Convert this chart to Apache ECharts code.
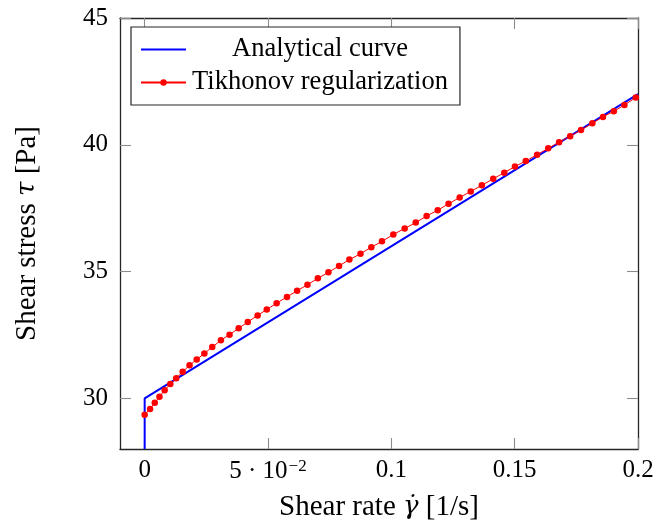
<!DOCTYPE html>
<html>
<head>
<meta charset="utf-8">
<script src="https://cdn.jsdelivr.net/npm/echarts@6/dist/echarts.min.js"></script>
<style>
  html, body { margin: 0; padding: 0; background: #fff; }
  #chart { width: 659px; height: 527px; }
</style>
</head>
<body>
<div id="chart"></div>
<script>
// ---- data ----
const analyticalX = [0, 0, 0.2];
const analyticalY = [28, 30, 42];

const tikhonovX = [0.0000, 0.0022, 0.0041, 0.0060, 0.0081, 0.0104, 0.0128, 0.0154, 0.0182, 0.0211,
  0.0242, 0.0274, 0.0309, 0.0344, 0.0381, 0.0418, 0.0458, 0.0495, 0.0535, 0.0577,
  0.0618, 0.0660, 0.0702, 0.0745, 0.0788, 0.0830, 0.0875, 0.0919, 0.0962, 0.1008,
  0.1054, 0.1099, 0.1143, 0.1188, 0.1232, 0.1277, 0.1322, 0.1367, 0.1413, 0.1458,
  0.1501, 0.1545, 0.1591, 0.1636, 0.1680, 0.1725, 0.1769, 0.1815, 0.1858, 0.1902,
  0.1945, 0.1991];
const tikhonovY = [29.35, 29.58, 29.82, 30.06, 30.32, 30.56, 30.79, 31.05, 31.30, 31.53,
  31.77, 32.02, 32.29, 32.51, 32.76, 33.01, 33.27, 33.50, 33.75, 34.00,
  34.24, 34.48, 34.73, 34.97, 35.22, 35.47, 35.70, 35.96, 36.19, 36.46,
  36.70, 36.93, 37.19, 37.42, 37.67, 37.92, 38.16, 38.40, 38.66, 38.90,
  39.14, 39.36, 39.61, 39.86, 40.10, 40.34, 40.58, 40.85, 41.10, 41.32,
  41.57, 41.86];

const xTicks = [0, 0.05, 0.1, 0.15, 0.2];
const xTickLabels = ['0', '5·10^−2', '0.1', '0.15', '0.2'];
const yTicks = [30, 35, 40, 45];
const yTickLabels = ['30', '35', '40', '45'];

const seriesNames = ['Analytical curve', 'Tikhonov regularization'];
const xName = 'Shear rate';
const yName = 'Shear stress';

// ---- chart ----
const serif = '"Liberation Serif", "DejaVu Serif", serif';
const FS = 25;      // tick labels
const LFS = 26.5;   // legend
const NFS = 29;     // axis names
const zip = (xs, ys) => xs.map((x, i) => [x, ys[i]]);

function xLabelFmt(v) {
  const i = xTicks.findIndex(t => Math.abs(t - v) < 1e-9);
  if (i < 0) return '';
  const s = xTickLabels[i];
  if (s.indexOf('^') >= 0) {
    const [base, exp] = s.split('^');
    const [m, b] = base.split('·');
    return '{n|' + m + ' · ' + b + '}{sup|' + exp + '}';
  }
  return '{n|' + s + '}';
}
function yLabelFmt(v) {
  const i = yTicks.findIndex(t => Math.abs(t - v) < 1e-9);
  return i < 0 ? '' : yTickLabels[i];
}

const frame = { show: true, onZero: false, lineStyle: { color: '#262626', width: 1.3 } };
const tickStyle = { color: '#8c8c8c', width: 1.1 };
const nameRich = {
  n: { fontFamily: serif, fontSize: NFS, color: '#000' },
  i: { fontFamily: '"DejaVu Serif", serif', fontSize: NFS - 3, color: '#000', fontStyle: 'italic' }
};

const chart = echarts.init(document.getElementById('chart'), null, { renderer: 'canvas' });
chart.setOption({
  animation: false,
  backgroundColor: '#fff',
  grid: { left: 120, right: 21, top: 18, bottom: 78, containLabel: false },
  legend: {
    orient: 'vertical',
    left: 131,
    top: 27,
    padding: [9, 12, 9, 9],
    itemGap: 6,
    itemWidth: 45,
    itemHeight: 8,
    backgroundColor: '#fff',
    borderColor: '#262626',
    borderWidth: 1.2,
    borderRadius: 0,
    data: [
      { name: seriesNames[0], itemStyle: { opacity: 0 } },
      { name: seriesNames[1] }
    ],
    formatter: name => '{t|' + name + '}',
    textStyle: {
      fontFamily: serif, fontSize: LFS, color: '#000',
      rich: { t: { fontFamily: serif, fontSize: LFS, color: '#000', width: 258, align: 'center' } }
    }
  },
  xAxis: [{
    type: 'value', min: -0.01, max: 0.2, position: 'bottom',
    axisLine: frame,
    axisTick: { show: true, inside: true, length: 11, customValues: xTicks, lineStyle: tickStyle },
    axisLabel: {
      show: true, customValues: xTicks, margin: 9, showMaxLabel: true, showMinLabel: true,
      formatter: xLabelFmt, fontFamily: serif, fontSize: FS, color: '#000',
      rich: {
        n: { fontFamily: serif, fontSize: FS, color: '#000' },
        sup: { fontFamily: serif, fontSize: 17, color: '#000', verticalAlign: 'top', padding: [0, 0, 10, 1] }
      }
    },
    splitLine: { show: false },
    name: '{n|' + xName + ' }{i|γ̇}{n| [1/s]}',
    nameLocation: 'middle', nameGap: 44,
    nameTextStyle: { fontFamily: serif, fontSize: NFS, color: '#000', rich: nameRich }
  }, {
    type: 'value', min: -0.01, max: 0.2, position: 'top',
    axisLine: frame,
    axisTick: { show: true, inside: true, length: 11, customValues: xTicks, lineStyle: tickStyle },
    axisLabel: { show: false },
    splitLine: { show: false }
  }],
  yAxis: [{
    type: 'value', min: 28, max: 45, position: 'left',
    axisLine: frame,
    axisTick: { show: true, inside: true, length: 11, customValues: yTicks, lineStyle: tickStyle },
    axisLabel: {
      show: true, customValues: yTicks, margin: 12, showMaxLabel: true,
      formatter: yLabelFmt, fontFamily: serif, fontSize: FS, color: '#000'
    },
    splitLine: { show: false },
    name: '{n|' + yName + ' }{i|τ}{n| [Pa]}',
    nameLocation: 'middle', nameGap: 78, nameRotate: 90,
    nameTextStyle: { fontFamily: serif, fontSize: NFS, color: '#000', rich: nameRich }
  }, {
    type: 'value', min: 28, max: 45, position: 'right',
    axisLine: frame,
    axisTick: { show: true, inside: true, length: 11, customValues: yTicks, lineStyle: tickStyle },
    axisLabel: { show: false },
    splitLine: { show: false }
  }],
  series: [{
    name: seriesNames[0],
    type: 'line',
    xAxisIndex: 0, yAxisIndex: 0,
    data: zip(analyticalX, analyticalY),
    symbol: 'none',
    lineStyle: { color: '#0000ff', width: 2 },
    itemStyle: { color: '#0000ff' },
    clip: true,
    z: 2
  }, {
    name: seriesNames[1],
    type: 'line',
    xAxisIndex: 0, yAxisIndex: 0,
    data: zip(tikhonovX, tikhonovY),
    symbol: 'circle',
    symbolSize: 6.5,
    showAllSymbol: true,
    lineStyle: { color: '#ff0000', width: 1 },
    itemStyle: { color: '#ff0000' },
    clip: true,
    z: 3
  }]
});
</script>
</body>
</html>
